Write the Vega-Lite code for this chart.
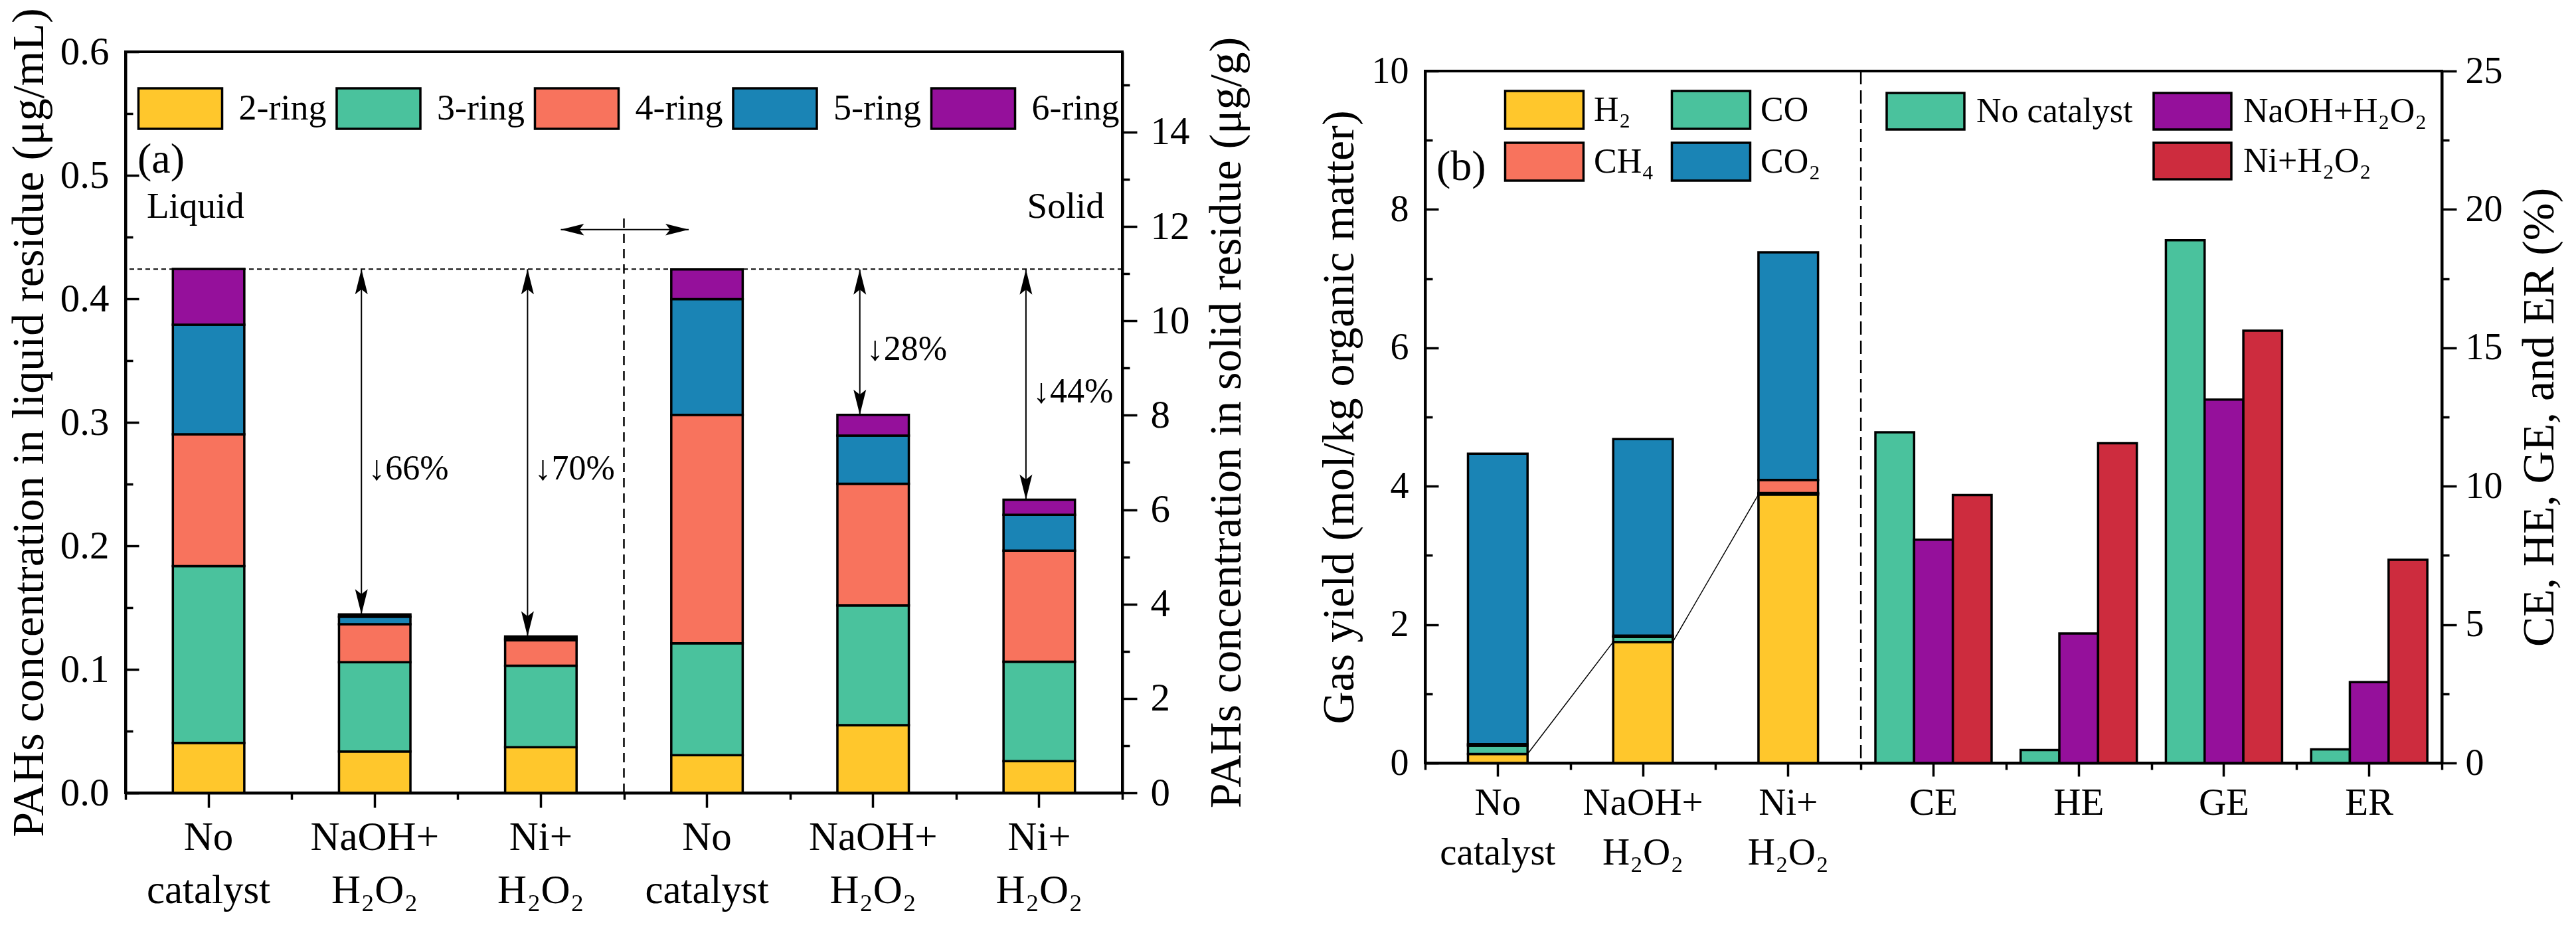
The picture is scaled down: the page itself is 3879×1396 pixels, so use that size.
{
  "$schema": "https://vega.github.io/schema/vega-lite/v6.json",
  "background": "white",
  "padding": {"left": 8, "top": 9, "right": 5, "bottom": 5},
  "config": {
    "font": "Liberation Serif",
    "view": {"stroke": "black", "strokeWidth": 4},
    "axis": {
      "grid": false,
      "domainColor": "black",
      "domainWidth": 4,
      "tickColor": "black",
      "tickWidth": 3.5,
      "labelColor": "black",
      "titleColor": "black",
      "labelFont": "Liberation Serif",
      "titleFont": "Liberation Serif",
      "titleFontWeight": "normal",
      "titleFontSize": 68,
      "labelAngle": 0,
      "labelLimit": 600
    },
    "legend": {
      "labelFont": "Liberation Serif",
      "labelColor": "black",
      "padding": 0,
      "symbolStrokeColor": "black",
      "symbolStrokeWidth": 3.5,
      "symbolOpacity": 1,
      "labelLimit": 600
    }
  },
  "datasets": {
    "pahs": [
      {"bar": "Liquid: No catalyst", "phase": "Liquid", "ring": "2-ring", "value": 0.0404},
      {"bar": "Liquid: No catalyst", "phase": "Liquid", "ring": "3-ring", "value": 0.1432},
      {"bar": "Liquid: No catalyst", "phase": "Liquid", "ring": "4-ring", "value": 0.1067},
      {"bar": "Liquid: No catalyst", "phase": "Liquid", "ring": "5-ring", "value": 0.0887},
      {"bar": "Liquid: No catalyst", "phase": "Liquid", "ring": "6-ring", "value": 0.0452},
      {"bar": "Liquid: NaOH+H₂O₂", "phase": "Liquid", "ring": "2-ring", "value": 0.0335},
      {"bar": "Liquid: NaOH+H₂O₂", "phase": "Liquid", "ring": "3-ring", "value": 0.0723},
      {"bar": "Liquid: NaOH+H₂O₂", "phase": "Liquid", "ring": "4-ring", "value": 0.0308},
      {"bar": "Liquid: NaOH+H₂O₂", "phase": "Liquid", "ring": "5-ring", "value": 0.006},
      {"bar": "Liquid: NaOH+H₂O₂", "phase": "Liquid", "ring": "6-ring", "value": 0.0019},
      {"bar": "Liquid: Ni+H₂O₂", "phase": "Liquid", "ring": "2-ring", "value": 0.0369},
      {"bar": "Liquid: Ni+H₂O₂", "phase": "Liquid", "ring": "3-ring", "value": 0.0661},
      {"bar": "Liquid: Ni+H₂O₂", "phase": "Liquid", "ring": "4-ring", "value": 0.0205},
      {"bar": "Liquid: Ni+H₂O₂", "phase": "Liquid", "ring": "5-ring", "value": 0.0014},
      {"bar": "Liquid: Ni+H₂O₂", "phase": "Liquid", "ring": "6-ring", "value": 0.0017},
      {"bar": "Solid: No catalyst", "phase": "Solid", "ring": "2-ring", "value": 0.80},
      {"bar": "Solid: No catalyst", "phase": "Solid", "ring": "3-ring", "value": 2.37},
      {"bar": "Solid: No catalyst", "phase": "Solid", "ring": "4-ring", "value": 4.84},
      {"bar": "Solid: No catalyst", "phase": "Solid", "ring": "5-ring", "value": 2.45},
      {"bar": "Solid: No catalyst", "phase": "Solid", "ring": "6-ring", "value": 0.63},
      {"bar": "Solid: NaOH+H₂O₂", "phase": "Solid", "ring": "2-ring", "value": 1.435},
      {"bar": "Solid: NaOH+H₂O₂", "phase": "Solid", "ring": "3-ring", "value": 2.535},
      {"bar": "Solid: NaOH+H₂O₂", "phase": "Solid", "ring": "4-ring", "value": 2.58},
      {"bar": "Solid: NaOH+H₂O₂", "phase": "Solid", "ring": "5-ring", "value": 1.02},
      {"bar": "Solid: NaOH+H₂O₂", "phase": "Solid", "ring": "6-ring", "value": 0.44},
      {"bar": "Solid: Ni+H₂O₂", "phase": "Solid", "ring": "2-ring", "value": 0.67},
      {"bar": "Solid: Ni+H₂O₂", "phase": "Solid", "ring": "3-ring", "value": 2.11},
      {"bar": "Solid: Ni+H₂O₂", "phase": "Solid", "ring": "4-ring", "value": 2.35},
      {"bar": "Solid: Ni+H₂O₂", "phase": "Solid", "ring": "5-ring", "value": 0.76},
      {"bar": "Solid: Ni+H₂O₂", "phase": "Solid", "ring": "6-ring", "value": 0.32}
    ],
    "reductions": [
      {"bar": "Liquid: NaOH+H₂O₂", "phase": "Liquid", "from": 0.424, "to": 0.1445, "label": "↓66%", "at": 0.254},
      {"bar": "Liquid: Ni+H₂O₂", "phase": "Liquid", "from": 0.424, "to": 0.1266, "label": "↓70%", "at": 0.254},
      {"bar": "Solid: NaOH+H₂O₂", "phase": "Solid", "from": 11.09, "to": 8.01, "label": "↓28%", "at": 9.17},
      {"bar": "Solid: Ni+H₂O₂", "phase": "Solid", "from": 11.09, "to": 6.21, "label": "↓44%", "at": 8.27}
    ],
    "gas": [
      {"cat": "No catalyst", "gas": "H₂", "rank": 1, "value": 0.13},
      {"cat": "No catalyst", "gas": "CO", "rank": 2, "value": 0.12},
      {"cat": "No catalyst", "gas": "CH₄", "rank": 3, "value": 0.02},
      {"cat": "No catalyst", "gas": "CO₂", "rank": 4, "value": 4.20},
      {"cat": "NaOH+H₂O₂", "gas": "H₂", "rank": 1, "value": 1.75},
      {"cat": "NaOH+H₂O₂", "gas": "CO", "rank": 2, "value": 0.07},
      {"cat": "NaOH+H₂O₂", "gas": "CH₄", "rank": 3, "value": 0.02},
      {"cat": "NaOH+H₂O₂", "gas": "CO₂", "rank": 4, "value": 2.84},
      {"cat": "Ni+H₂O₂", "gas": "H₂", "rank": 1, "value": 3.88},
      {"cat": "Ni+H₂O₂", "gas": "CO", "rank": 2, "value": 0.02},
      {"cat": "Ni+H₂O₂", "gas": "CH₄", "rank": 3, "value": 0.19},
      {"cat": "Ni+H₂O₂", "gas": "CO₂", "rank": 4, "value": 3.29}
    ],
    "h2links": [
      {"from": "No catalyst", "to": "NaOH+H₂O₂", "y1": 0.13, "y2": 1.75},
      {"from": "NaOH+H₂O₂", "to": "Ni+H₂O₂", "y1": 1.75, "y2": 3.88}
    ],
    "eff": [
      {"metric": "CE", "catalyst": "No catalyst", "value": 11.95},
      {"metric": "CE", "catalyst": "NaOH+H₂O₂", "value": 8.07},
      {"metric": "CE", "catalyst": "Ni+H₂O₂", "value": 9.68},
      {"metric": "HE", "catalyst": "No catalyst", "value": 0.47},
      {"metric": "HE", "catalyst": "NaOH+H₂O₂", "value": 4.68},
      {"metric": "HE", "catalyst": "Ni+H₂O₂", "value": 11.55},
      {"metric": "GE", "catalyst": "No catalyst", "value": 18.89},
      {"metric": "GE", "catalyst": "NaOH+H₂O₂", "value": 13.13},
      {"metric": "GE", "catalyst": "Ni+H₂O₂", "value": 15.62},
      {"metric": "ER", "catalyst": "No catalyst", "value": 0.49},
      {"metric": "ER", "catalyst": "NaOH+H₂O₂", "value": 2.92},
      {"metric": "ER", "catalyst": "Ni+H₂O₂", "value": 7.34}
    ],
    "one": [{}]
  },
  "hconcat": [
    {
      "width": 1501,
      "height": 1116,
      "layer": [
        {
          "data": {"name": "pahs"},
          "transform": [{"filter": "datum.phase === 'Liquid'"}],
          "mark": {"type": "bar", "width": {"band": 0.43}, "stroke": "black", "strokeWidth": 3.5},
          "encoding": {
            "x": {
              "field": "bar", "type": "nominal",
              "scale": {"domain": ["Liquid: No catalyst", "Liquid: NaOH+H₂O₂", "Liquid: Ni+H₂O₂", "Solid: No catalyst", "Solid: NaOH+H₂O₂", "Solid: Ni+H₂O₂"], "paddingInner": 0, "paddingOuter": 0},
              "axis": {
                "orient": "bottom", "title": null, "labelFont": "Liberation Serif", "labelFontSize": 61, "labelLineHeight": 80, "labelPadding": 15, "tickSize": 22,
                "labelExpr": "split(replace(replace(slice(datum.value, indexof(datum.value, ':') + 2), 'No catalyst', 'No|catalyst'), '+', '+|'), '|')"
              }
            },
            "y": {
              "field": "value", "type": "quantitative", "stack": "zero",
              "scale": {"domain": [0, 0.6], "nice": false},
              "axis": {
                "orient": "left", "values": [0, 0.1, 0.2, 0.3, 0.4, 0.5, 0.6], "format": ".1f",
                "tickSize": -20, "labelPadding": 45, "labelFont": "Liberation Serif", "labelFontSize": 59,
                "title": "PAHs concentration in liquid residue (μg/mL)", "titleFont": "Liberation Serif", "titlePadding": 12
              }
            },
            "fill": {
              "field": "ring", "type": "nominal",
              "scale": {"domain": ["2-ring", "3-ring", "4-ring", "5-ring", "6-ring"], "range": ["#FFC72C", "#4AC29D", "#F8735D", "#1A84B5", "#95109B"]},
              "legend": {
                "title": null, "orient": "none", "legendX": 50, "legendY": 53, "direction": "horizontal", "columns": 5,
                "symbolType": "M-2.066,-1H2.066V1H-2.066Z", "symbolSize": 3721,
                "labelFontSize": 54, "labelOffset": 55.5, "columnPadding": 7.5
              }
            },
            "order": {"field": "ring", "sort": "ascending"}
          }
        },
        {
          "data": {"name": "pahs"},
          "transform": [{"filter": "datum.phase === 'Solid'"}],
          "mark": {"type": "bar", "width": {"band": 0.43}, "stroke": "black", "strokeWidth": 3.5},
          "encoding": {
            "x": {
              "field": "bar", "type": "nominal",
              "scale": {"domain": ["Liquid: No catalyst", "Liquid: NaOH+H₂O₂", "Liquid: Ni+H₂O₂", "Solid: No catalyst", "Solid: NaOH+H₂O₂", "Solid: Ni+H₂O₂"], "paddingInner": 0, "paddingOuter": 0},
              "axis": null
            },
            "y": {
              "field": "value", "type": "quantitative", "stack": "zero",
              "scale": {"domain": [0, 15.7], "nice": false},
              "axis": {
                "orient": "right", "values": [0, 2, 4, 6, 8, 10, 12, 14],
                "tickSize": 22, "labelPadding": 20, "labelFont": "Liberation Serif", "labelFontSize": 59,
                "title": "PAHs concentration in solid residue (μg/g)", "titleFont": "Liberation Serif", "titleAngle": 270, "titleBaseline": "top", "titlePadding": 22
              }
            },
            "fill": {
              "field": "ring", "type": "nominal",
              "scale": {"domain": ["2-ring", "3-ring", "4-ring", "5-ring", "6-ring"], "range": ["#FFC72C", "#4AC29D", "#F8735D", "#1A84B5", "#95109B"]},
              "legend": {
                "title": null, "orient": "none", "legendX": 50, "legendY": 53, "direction": "horizontal", "columns": 5,
                "symbolType": "M-2.066,-1H2.066V1H-2.066Z", "symbolSize": 3721,
                "labelFontSize": 54, "labelOffset": 55.5, "columnPadding": 7.5
              }
            },
            "order": {"field": "ring", "sort": "ascending"}
          }
        },
        {
          "data": {"name": "one"},
          "mark": {"type": "rule", "strokeDash": [7, 5], "strokeWidth": 2, "color": "black"},
          "encoding": {
            "y": {
              "datum": 0.424, "type": "quantitative",
              "scale": {"domain": [0, 0.6], "nice": false},
              "axis": {"orient": "left", "values": [0.05, 0.15, 0.25, 0.35, 0.45, 0.55], "labels": false, "domain": false, "tickSize": -11, "title": null}
            }
          }
        },
        {
          "data": {"name": "one"},
          "mark": {"type": "rule", "strokeDash": [14, 9], "strokeWidth": 2.5, "color": "black"},
          "encoding": {
            "x": {
              "datum": "Solid: No catalyst", "type": "nominal", "bandPosition": 0,
              "scale": {"domain": ["Liquid: No catalyst", "Liquid: NaOH+H₂O₂", "Liquid: Ni+H₂O₂", "Solid: No catalyst", "Solid: NaOH+H₂O₂", "Solid: Ni+H₂O₂"], "paddingInner": 0, "paddingOuter": 0},
              "axis": {"orient": "bottom", "title": null, "labels": false, "domain": false, "tickBand": "extent", "tickSize": 10}
            },
            "y": {"datum": 0, "type": "quantitative", "scale": {"domain": [0, 0.6], "nice": false}, "axis": null},
            "y2": {"datum": 0.468}
          }
        },
        {
          "data": {"name": "reductions"},
          "transform": [{"filter": "datum.phase === 'Liquid'"}],
          "mark": {"type": "rule", "strokeWidth": 2, "color": "black"},
          "encoding": {
            "x": {"field": "bar", "type": "nominal", "bandPosition": 0.42, "axis": null},
            "y": {"field": "from", "type": "quantitative", "scale": {"domain": [0, 0.6], "nice": false}, "axis": null},
            "y2": {"field": "to"}
          }
        },
        {
          "data": {"name": "reductions"},
          "transform": [{"filter": "datum.phase === 'Liquid'"}],
          "mark": {"type": "point", "filled": true, "fill": "black", "strokeWidth": 0, "opacity": 1, "size": 1444, "shape": "M0,0L0.5,2L0,1.6L-0.5,2Z"},
          "encoding": {
            "x": {"field": "bar", "type": "nominal", "bandPosition": 0.42, "axis": null},
            "y": {"field": "from", "type": "quantitative", "scale": {"domain": [0, 0.6], "nice": false}, "axis": null}
          }
        },
        {
          "data": {"name": "reductions"},
          "transform": [{"filter": "datum.phase === 'Liquid'"}],
          "mark": {"type": "point", "filled": true, "fill": "black", "strokeWidth": 0, "opacity": 1, "size": 1444, "shape": "M0,0L0.5,-2L0,-1.6L-0.5,-2Z"},
          "encoding": {
            "x": {"field": "bar", "type": "nominal", "bandPosition": 0.42, "axis": null},
            "y": {"field": "to", "type": "quantitative", "scale": {"domain": [0, 0.6], "nice": false}, "axis": null}
          }
        },
        {
          "data": {"name": "reductions"},
          "transform": [{"filter": "datum.phase === 'Liquid'"}],
          "mark": {"type": "text", "align": "left", "baseline": "alphabetic", "fontSize": 52, "color": "black"},
          "encoding": {
            "x": {"field": "bar", "type": "nominal", "bandPosition": 0.46, "axis": null},
            "y": {"field": "at", "type": "quantitative", "scale": {"domain": [0, 0.6], "nice": false}, "axis": null},
            "text": {"field": "label"}
          }
        },
        {
          "data": {"name": "reductions"},
          "transform": [{"filter": "datum.phase === 'Solid'"}],
          "mark": {"type": "rule", "strokeWidth": 2, "color": "black"},
          "encoding": {
            "x": {"field": "bar", "type": "nominal", "bandPosition": 0.42, "axis": null},
            "y": {
              "field": "from", "type": "quantitative", "scale": {"domain": [0, 15.7], "nice": false},
              "axis": {"orient": "right", "values": [1, 3, 5, 7, 9, 11, 13, 15], "labels": false, "domain": false, "tickSize": 11, "title": null}
            },
            "y2": {"field": "to"}
          }
        },
        {
          "data": {"name": "reductions"},
          "transform": [{"filter": "datum.phase === 'Solid'"}],
          "mark": {"type": "point", "filled": true, "fill": "black", "strokeWidth": 0, "opacity": 1, "size": 1444, "shape": "M0,0L0.5,2L0,1.6L-0.5,2Z"},
          "encoding": {
            "x": {"field": "bar", "type": "nominal", "bandPosition": 0.42, "axis": null},
            "y": {"field": "from", "type": "quantitative", "scale": {"domain": [0, 15.7], "nice": false}, "axis": null}
          }
        },
        {
          "data": {"name": "reductions"},
          "transform": [{"filter": "datum.phase === 'Solid'"}],
          "mark": {"type": "point", "filled": true, "fill": "black", "strokeWidth": 0, "opacity": 1, "size": 1444, "shape": "M0,0L0.5,-2L0,-1.6L-0.5,-2Z"},
          "encoding": {
            "x": {"field": "bar", "type": "nominal", "bandPosition": 0.42, "axis": null},
            "y": {"field": "to", "type": "quantitative", "scale": {"domain": [0, 15.7], "nice": false}, "axis": null}
          }
        },
        {
          "data": {"name": "reductions"},
          "transform": [{"filter": "datum.phase === 'Solid'"}],
          "mark": {"type": "text", "align": "left", "baseline": "alphabetic", "fontSize": 52, "color": "black"},
          "encoding": {
            "x": {"field": "bar", "type": "nominal", "bandPosition": 0.46, "axis": null},
            "y": {"field": "at", "type": "quantitative", "scale": {"domain": [0, 15.7], "nice": false}, "axis": null},
            "text": {"field": "label"}
          }
        },
        {
          "data": {"name": "one"},
          "mark": {"type": "rule", "strokeWidth": 2, "color": "black"},
          "encoding": {
            "x": {"datum": "Liquid: Ni+H₂O₂", "type": "nominal", "bandPosition": 0.62, "axis": null},
            "x2": {"datum": "Solid: No catalyst", "bandPosition": 0.39},
            "y": {"datum": 0.456, "type": "quantitative", "scale": {"domain": [0, 0.6], "nice": false}, "axis": null}
          }
        },
        {
          "data": {"name": "one"},
          "mark": {"type": "point", "filled": true, "fill": "black", "strokeWidth": 0, "opacity": 1, "size": 1225, "shape": "M0,0L2,0.5L1.6,0L2,-0.5Z"},
          "encoding": {
            "x": {"datum": "Liquid: Ni+H₂O₂", "type": "nominal", "bandPosition": 0.62, "axis": null},
            "y": {"datum": 0.456, "type": "quantitative", "scale": {"domain": [0, 0.6], "nice": false}, "axis": null}
          }
        },
        {
          "data": {"name": "one"},
          "mark": {"type": "point", "filled": true, "fill": "black", "strokeWidth": 0, "opacity": 1, "size": 1225, "shape": "M0,0L-2,0.5L-1.6,0L-2,-0.5Z"},
          "encoding": {
            "x": {"datum": "Solid: No catalyst", "type": "nominal", "bandPosition": 0.39, "axis": null},
            "y": {"datum": 0.456, "type": "quantitative", "scale": {"domain": [0, 0.6], "nice": false}, "axis": null}
          }
        },
        {
          "data": {"name": "one"},
          "mark": {"type": "text", "align": "left", "baseline": "alphabetic", "fontSize": 64, "color": "black", "text": "(a)"},
          "encoding": {
            "x": {"datum": "Liquid: No catalyst", "type": "nominal", "bandPosition": 0.072, "axis": null},
            "y": {"datum": 0.502, "type": "quantitative", "scale": {"domain": [0, 0.6], "nice": false}, "axis": null}
          }
        },
        {
          "data": {"name": "one"},
          "mark": {"type": "text", "align": "left", "baseline": "alphabetic", "fontSize": 55, "color": "black", "text": "Liquid"},
          "encoding": {
            "x": {"datum": "Liquid: No catalyst", "type": "nominal", "bandPosition": 0.128, "axis": null},
            "y": {"datum": 0.4656, "type": "quantitative", "scale": {"domain": [0, 0.6], "nice": false}, "axis": null}
          }
        },
        {
          "data": {"name": "one"},
          "mark": {"type": "text", "align": "right", "baseline": "alphabetic", "fontSize": 55, "color": "black", "text": "Solid"},
          "encoding": {
            "x": {"datum": "Solid: Ni+H₂O₂", "type": "nominal", "bandPosition": 0.891, "axis": null},
            "y": {"datum": 0.4656, "type": "quantitative", "scale": {"domain": [0, 0.6], "nice": false}, "axis": null}
          }
        }
      ],
      "resolve": {"scale": {"y": "independent"}, "axis": {"x": "independent", "y": "independent"}}
    },
    {
      "vconcat": [
        {
          "width": 1531,
          "height": 29,
          "data": {"name": "one"},
          "mark": {"type": "point", "opacity": 0},
          "view": {"stroke": null}
        },
        {
          "width": 1531,
          "height": 1042,
          "layer": [
            {
              "data": {"name": "gas"},
              "mark": {"type": "bar", "width": {"band": 0.41}, "stroke": "black", "strokeWidth": 3.5},
              "encoding": {
                "x": {
                  "field": "cat", "type": "nominal",
                  "scale": {"domain": ["No catalyst", "NaOH+H₂O₂", "Ni+H₂O₂", "CE", "HE", "GE", "ER"], "paddingInner": 0, "paddingOuter": 0},
                  "axis": {
                    "orient": "bottom", "title": null, "labelFont": "Liberation Serif", "labelFontSize": 57, "labelLineHeight": 75, "labelPadding": 12, "tickSize": 20,
                    "labelExpr": "split(replace(replace(datum.value, 'No catalyst', 'No|catalyst'), '+', '+|'), '|')"
                  }
                },
                "y": {
                  "field": "value", "type": "quantitative", "stack": "zero",
                  "scale": {"domain": [0, 10], "nice": false},
                  "axis": {
                    "orient": "left", "values": [0, 2, 4, 6, 8, 10],
                    "tickSize": -20, "labelPadding": 45, "labelFont": "Liberation Serif", "labelFontSize": 56,
                    "title": "Gas yield (mol/kg organic matter)", "titleFont": "Liberation Serif", "titlePadding": 14
                  }
                },
                "fill": {
                  "field": "gas", "type": "nominal",
                  "scale": {"domain": ["H₂", "CO", "CH₄", "CO₂"], "range": ["#FFC72C", "#4AC29D", "#F8735D", "#1A84B5"]},
                  "legend": {
                    "title": null, "orient": "none", "legendX": 149, "legendY": 28, "direction": "horizontal", "columns": 2,
                    "symbolType": "M-2.07,-1H2.07V1H-2.07Z", "symbolSize": 3249,
                    "labelFontSize": 52, "labelOffset": 44, "columnPadding": 19, "rowPadding": 7
                  }
                },
                "order": {"field": "rank", "type": "quantitative", "sort": "ascending"}
              }
            },
            {
              "data": {"name": "h2links"},
              "mark": {"type": "rule", "strokeWidth": 1.5, "color": "black"},
              "encoding": {
                "x": {"field": "from", "type": "nominal", "bandPosition": 0.705, "axis": null},
                "x2": {"field": "to", "bandPosition": 0.295},
                "y": {
                  "field": "y1", "type": "quantitative", "scale": {"domain": [0, 10], "nice": false},
                  "axis": {"orient": "left", "values": [1, 3, 5, 7, 9], "labels": false, "domain": false, "tickSize": -11, "title": null}
                },
                "y2": {"field": "y2"}
              }
            },
            {
              "data": {"name": "one"},
              "mark": {"type": "rule", "strokeDash": [20, 9], "strokeWidth": 2.5, "color": "black"},
              "encoding": {
                "x": {
                  "datum": "CE", "type": "nominal", "bandPosition": 0,
                  "scale": {"domain": ["No catalyst", "NaOH+H₂O₂", "Ni+H₂O₂", "CE", "HE", "GE", "ER"], "paddingInner": 0, "paddingOuter": 0},
                  "axis": {"orient": "bottom", "title": null, "labels": false, "domain": false, "tickBand": "extent", "tickSize": 10}
                }
              }
            },
            {
              "data": {"name": "eff"},
              "transform": [{"filter": "datum.catalyst === 'No catalyst'"}],
              "mark": {"type": "bar", "stroke": "black", "strokeWidth": 3.5},
              "encoding": {
                "x": {"field": "metric", "type": "nominal", "axis": null},
                "xOffset": {"field": "catalyst", "type": "nominal", "scale": {"domain": ["No catalyst", "NaOH+H₂O₂", "Ni+H₂O₂"], "paddingInner": 0, "paddingOuter": 0.375}},
                "y": {
                  "field": "value", "type": "quantitative",
                  "scale": {"domain": [0, 25], "nice": false},
                  "axis": {
                    "orient": "right", "values": [0, 5, 10, 15, 20, 25],
                    "tickSize": 22, "labelPadding": 13, "labelFont": "Liberation Serif", "labelFontSize": 56,
                    "title": "CE, HE, GE, and ER (%)", "titleFont": "Liberation Serif", "titleAngle": 270, "titleBaseline": "top", "titlePadding": 22
                  }
                },
                "fill": {
                  "field": "catalyst", "type": "nominal",
                  "scale": {"domain": ["No catalyst"], "range": ["#4AC29D"]},
                  "legend": {
                    "title": null, "orient": "none", "legendX": 724, "legendY": 31,
                    "symbolType": "M-2.127,-1H2.127V1H-2.127Z", "symbolSize": 3025,
                    "labelFontSize": 52, "labelOffset": 47
                  }
                }
              }
            },
            {
              "data": {"name": "eff"},
              "transform": [{"filter": "datum.catalyst !== 'No catalyst'"}],
              "mark": {"type": "bar", "stroke": "black", "strokeWidth": 3.5},
              "encoding": {
                "x": {"field": "metric", "type": "nominal", "axis": null},
                "xOffset": {"field": "catalyst", "type": "nominal", "scale": {"domain": ["No catalyst", "NaOH+H₂O₂", "Ni+H₂O₂"], "paddingInner": 0, "paddingOuter": 0.375}},
                "y": {
                  "field": "value", "type": "quantitative",
                  "scale": {"domain": [0, 25], "nice": false},
                  "axis": {"orient": "right", "values": [2.5, 7.5, 12.5, 17.5, 22.5], "labels": false, "domain": false, "tickSize": 11, "title": null}
                },
                "fill": {
                  "field": "catalyst", "type": "nominal",
                  "scale": {"domain": ["NaOH+H₂O₂", "Ni+H₂O₂"], "range": ["#95109B", "#CD2C3E"]},
                  "legend": {
                    "title": null, "orient": "none", "legendX": 1126, "legendY": 31, "direction": "vertical",
                    "symbolType": "M-2.127,-1H2.127V1H-2.127Z", "symbolSize": 3025,
                    "labelFontSize": 52, "labelOffset": 47, "rowPadding": 6
                  }
                }
              }
            },
            {
              "data": {"name": "one"},
              "mark": {"type": "text", "align": "left", "baseline": "alphabetic", "fontSize": 64, "color": "black", "text": "(b)"},
              "encoding": {
                "x": {"datum": "No catalyst", "type": "nominal", "bandPosition": 0.078, "axis": null},
                "y": {"datum": 8.43, "type": "quantitative", "scale": {"domain": [0, 10], "nice": false}, "axis": null}
              }
            }
          ],
          "resolve": {"scale": {"y": "independent", "fill": "independent"}, "axis": {"x": "independent", "y": "independent"}}
        }
      ],
      "spacing": 0,
      "bounds": "flush"
    }
  ],
  "spacing": 456,
  "bounds": "flush"
}
